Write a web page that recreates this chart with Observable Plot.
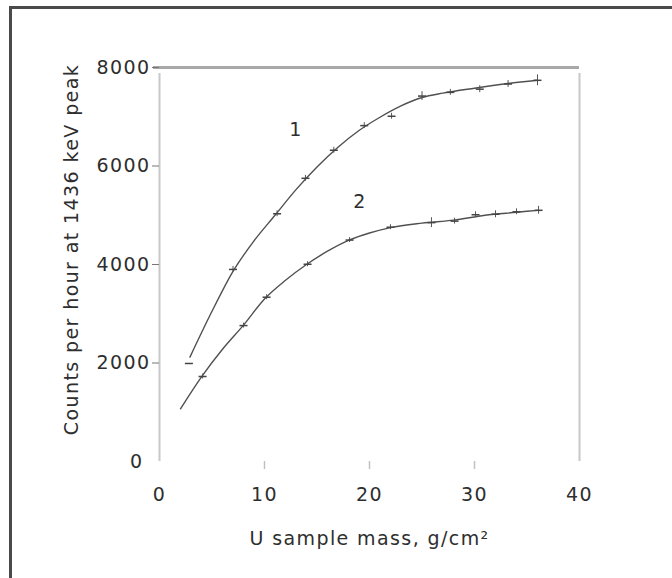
<!DOCTYPE html>
<html>
<head>
<meta charset="utf-8">
<script src="https://cdn.jsdelivr.net/npm/d3@7"></script>
<script src="https://cdn.jsdelivr.net/npm/@observablehq/plot@0.6"></script>
<style>
  html, body { margin: 0; padding: 0; background: #fff; }
  #wrap { position: relative; width: 672px; height: 578px; overflow: hidden; }
  #frame { position: absolute; left: 9px; top: 6px; right: -10px; bottom: -10px;
           border-top: 3px solid #4a4a4a; border-left: 3px solid #4a4a4a; pointer-events: none; }
  svg { font-family: "DejaVu Sans", Verdana, sans-serif; }
  svg text { letter-spacing: 1.4px; }
</style>
</head>
<body>
<div id="wrap"><div id="frame"></div></div>
<script>
// Curve 1 – measured points
const x1 = [2.8, 7.0, 11.2, 13.9, 16.6, 19.5, 22.1, 25.0, 27.7, 30.5, 33.2, 36.0];
const y1 = [1990, 3900, 5030, 5750, 6320, 6820, 7010, 7420, 7495, 7560, 7665, 7740];
const e1 = [0, 60, 60, 60, 60, 60, 60, 90, 60, 70, 70, 110];
// Curve 1 – drawn fit line
const lx1 = [2.9, 5, 7, 9, 11, 13, 15, 17, 19, 21, 23, 25, 27, 30, 33, 36];
const ly1 = [2120, 3050, 3860, 4480, 5000, 5520, 5980, 6380, 6720, 6990, 7220, 7390, 7480, 7580, 7670, 7740];
// Curve 2 – measured points
const x2 = [4.1, 8.0, 10.2, 14.1, 18.1, 22.0, 25.9, 28.1, 30.1, 32.0, 34.0, 36.1];
const y2 = [1726, 2760, 3336, 4005, 4496, 4757, 4850, 4880, 5010, 5020, 5070, 5100];
const e2 = [50, 50, 50, 50, 50, 50, 100, 60, 60, 70, 60, 80];
// Curve 2 – drawn fit line
const lx2 = [2.0, 4, 6, 8, 10, 12, 14, 16, 18, 20, 22, 25, 28, 31, 34, 36];
const ly2 = [1070, 1720, 2280, 2770, 3300, 3680, 4000, 4270, 4490, 4640, 4750, 4840, 4900, 5000, 5060, 5100];
// Curve labels
const curveLabels = ["1", "2"];
const curveLabelX = [13.0, 19.1];
const curveLabelY = [6740, 5280];
// Axes
const xTicks = [0, 10, 20, 30, 40];
const yTicks = [2000, 4000, 6000, 8000];
const xTitle = "U sample mass, g/cm²";
const yTitle = "Counts per hour at 1436 keV peak";

const pts1 = x1.map((x, i) => ({x, y: y1[i], e: e1[i]}));
const pts2 = x2.map((x, i) => ({x, y: y2[i], e: e2[i]}));
const line1 = lx1.map((x, i) => ({x, y: ly1[i]}));
const line2 = lx2.map((x, i) => ({x, y: ly2[i]}));
const labs = curveLabels.map((t, i) => ({t, x: curveLabelX[i], y: curveLabelY[i]}));

const dash = { draw(ctx, size) { const r = Math.sqrt(size / Math.PI); ctx.moveTo(-r, 0); ctx.lineTo(r, 0); } };

const ink = "#2e2e2e";
const fontStyle = {fontSize: 19, fill: ink};

const chart = Plot.plot({
  width: 672,
  height: 578,
  marginLeft: 159,
  marginRight: 93,
  marginTop: 67,
  marginBottom: 117,
  x: {domain: [0, 40]},
  y: {domain: [0, 8000]},
  style: {fontFamily: "DejaVu Sans, Verdana, sans-serif", fontSize: "19px", color: ink, background: "white"},
  marks: [
    // plot box: left/right light rules, top heavier rule
    Plot.ruleX([0, 40], {y1: 0, y2: 8000, stroke: "#c8c8c8", strokeWidth: 2, insetBottom: -6}),
    Plot.ruleY([8000], {x1: 0, x2: 40, stroke: "#a8a8a8", strokeWidth: 3, insetLeft: -6}),
    Plot.axisX({ticks: [10, 20, 30], tickSize: 8, tickFormat: () => "", label: null, stroke: "#c0c0c0", strokeWidth: 1.5, tickPadding: 0}),
    Plot.axisX({ticks: xTicks, tickSize: 0, tickPadding: 26, label: null, fontSize: 19, fill: ink}),
    Plot.axisY({ticks: yTicks, tickSize: 7, tickPadding: 2, tickFormat: d => String(d), label: null, stroke: "#777", fontSize: 19, fill: ink}),
    Plot.axisY({ticks: [0], tickSize: 0, tickPadding: 16, label: null, fontSize: 19, fill: ink}),
    // axis titles
    Plot.text([yTitle], {frameAnchor: "left", textAnchor: "middle", lineAnchor: "middle", dx: -88, dy: -15, rotate: -90, ...fontStyle}),
    Plot.text([xTitle], {frameAnchor: "bottom", lineAnchor: "middle", dy: 77, ...fontStyle}),
    // fit lines
    Plot.line(line1, {x: "x", y: "y", curve: "monotone-x", stroke: "#505050", strokeWidth: 1.4}),
    Plot.line(line2, {x: "x", y: "y", curve: "monotone-x", stroke: "#505050", strokeWidth: 1.4}),
    // error bars and point markers
    Plot.ruleX(pts1, {x: "x", y1: d => d.y - d.e, y2: d => d.y + d.e, stroke: "#555", strokeWidth: 1}),
    Plot.ruleX(pts2, {x: "x", y1: d => d.y - d.e, y2: d => d.y + d.e, stroke: "#555", strokeWidth: 1}),
    Plot.dot(pts1, {x: "x", y: "y", symbol: dash, r: 4, stroke: "#444", strokeWidth: 1.5}),
    Plot.dot(pts2, {x: "x", y: "y", symbol: dash, r: 4, stroke: "#444", strokeWidth: 1.5}),
    // curve labels
    Plot.text(labs, {x: "x", y: "y", text: "t", ...fontStyle})
  ]
});
document.getElementById("wrap").insertBefore(chart, document.getElementById("frame"));
</script>
</body>
</html>
